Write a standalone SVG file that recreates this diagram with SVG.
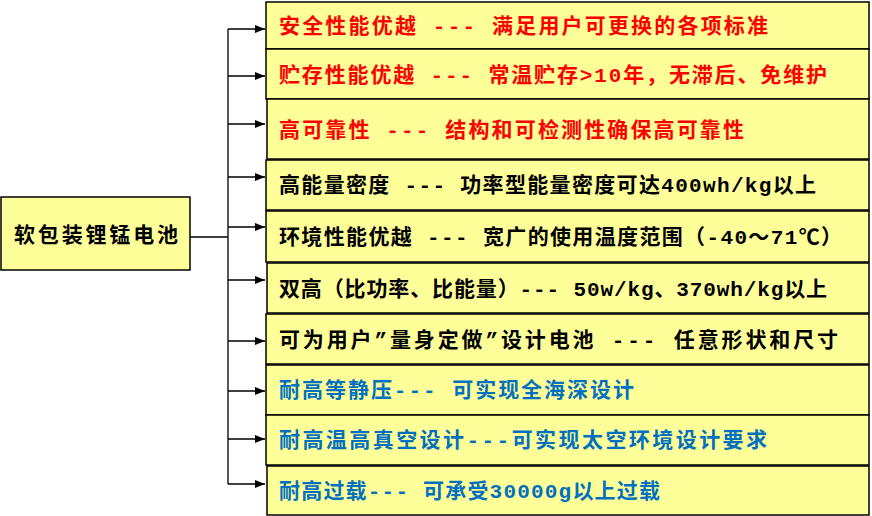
<svg xmlns="http://www.w3.org/2000/svg" width="872" height="516" viewBox="0 0 872 516">
<defs><marker id="a" markerWidth="10" markerHeight="8" refX="10" refY="4" orient="auto" markerUnits="userSpaceOnUse"><path d="M0,0L10,4L0,8z" fill="#000"/></marker></defs>
<style>
.b{fill:#FFFF99;stroke:#000;stroke-width:1.5}
.t{font-family:"Liberation Mono","Noto Sans CJK SC",monospace;font-size:21px;font-weight:bold;dominant-baseline:central}
.r{fill:#FF0000}.k{fill:#000}.u{fill:#0070C0}
.c{stroke:#000;stroke-width:1.3;fill:none}
.c2{stroke:#000;stroke-width:1.3;fill:none;marker-end:url(#a)}
</style>
<rect width="872" height="516" fill="#fff"/>
<g id="root"><rect class="b" x="1" y="197" width="189" height="73"/><text class="t k" x="14" y="236" textLength="164" lengthAdjust="spacing">软包装锂锰电池</text></g>
<g id="connectors">
<path class="c" d="M190,237H228M228,29V484"/>
<path class="c2" d="M228,29H265"/><path class="c2" d="M228,76H265"/><path class="c2" d="M228,124H265"/><path class="c2" d="M228,177H265"/><path class="c2" d="M228,227H265"/><path class="c2" d="M228,280H265"/><path class="c2" d="M228,341H265"/><path class="c2" d="M228,391H265"/><path class="c2" d="M228,439H265"/><path class="c2" d="M228,484H265"/>
</g>
<g id="n1"><rect class="b" x="266" y="2" width="603" height="47"/><text class="t r" x="279" y="27" textLength="489" lengthAdjust="spacing">安全性能优越 --- 满足用户可更换的各项标准</text></g>
<g id="n2"><rect class="b" x="266" y="49" width="603" height="50"/><text class="t r" x="279" y="76" textLength="548" lengthAdjust="spacing">贮存性能优越 --- 常温贮存&gt;10年，无滞后、免维护</text></g>
<g id="n3"><rect class="b" x="267" y="99" width="602" height="60"/><text class="t r" x="279" y="131" textLength="465" lengthAdjust="spacing">高可靠性 --- 结构和可检测性确保高可靠性</text></g>
<g id="n4"><rect class="b" x="266" y="160" width="603" height="50"/><text class="t k" x="279" y="186" textLength="537" lengthAdjust="spacing">高能量密度 --- 功率型能量密度可达400wh/kg以上</text></g>
<g id="n5"><rect class="b" x="266" y="211" width="603" height="51"/><text class="t k" x="279" y="238" textLength="563" lengthAdjust="spacing">环境性能优越 --- 宽广的使用温度范围（-40～71℃）</text></g>
<g id="n6"><rect class="b" x="267" y="263" width="602" height="50"/><text class="t k" x="279" y="290" textLength="548" lengthAdjust="spacing">双高（比功率、比能量）--- 50w/kg、370wh/kg以上</text></g>
<g id="n7"><rect class="b" x="266" y="314" width="603" height="50"/><text class="t k" x="279" y="341" textLength="559" lengthAdjust="spacing">可为用户”量身定做”设计电池 --- 任意形状和尺寸</text></g>
<g id="n8"><rect class="b" x="266" y="365" width="603" height="50"/><text class="t u" x="279" y="391" textLength="355" lengthAdjust="spacing">耐高等静压--- 可实现全海深设计</text></g>
<g id="n9"><rect class="b" x="266" y="415" width="603" height="50"/><text class="t u" x="279" y="441" textLength="488" lengthAdjust="spacing">耐高温高真空设计---可实现太空环境设计要求</text></g>
<g id="n10"><rect class="b" x="267" y="466" width="602" height="49"/><text class="t u" x="279" y="492" textLength="381" lengthAdjust="spacing">耐高过载--- 可承受30000g以上过载</text></g>
</svg>
